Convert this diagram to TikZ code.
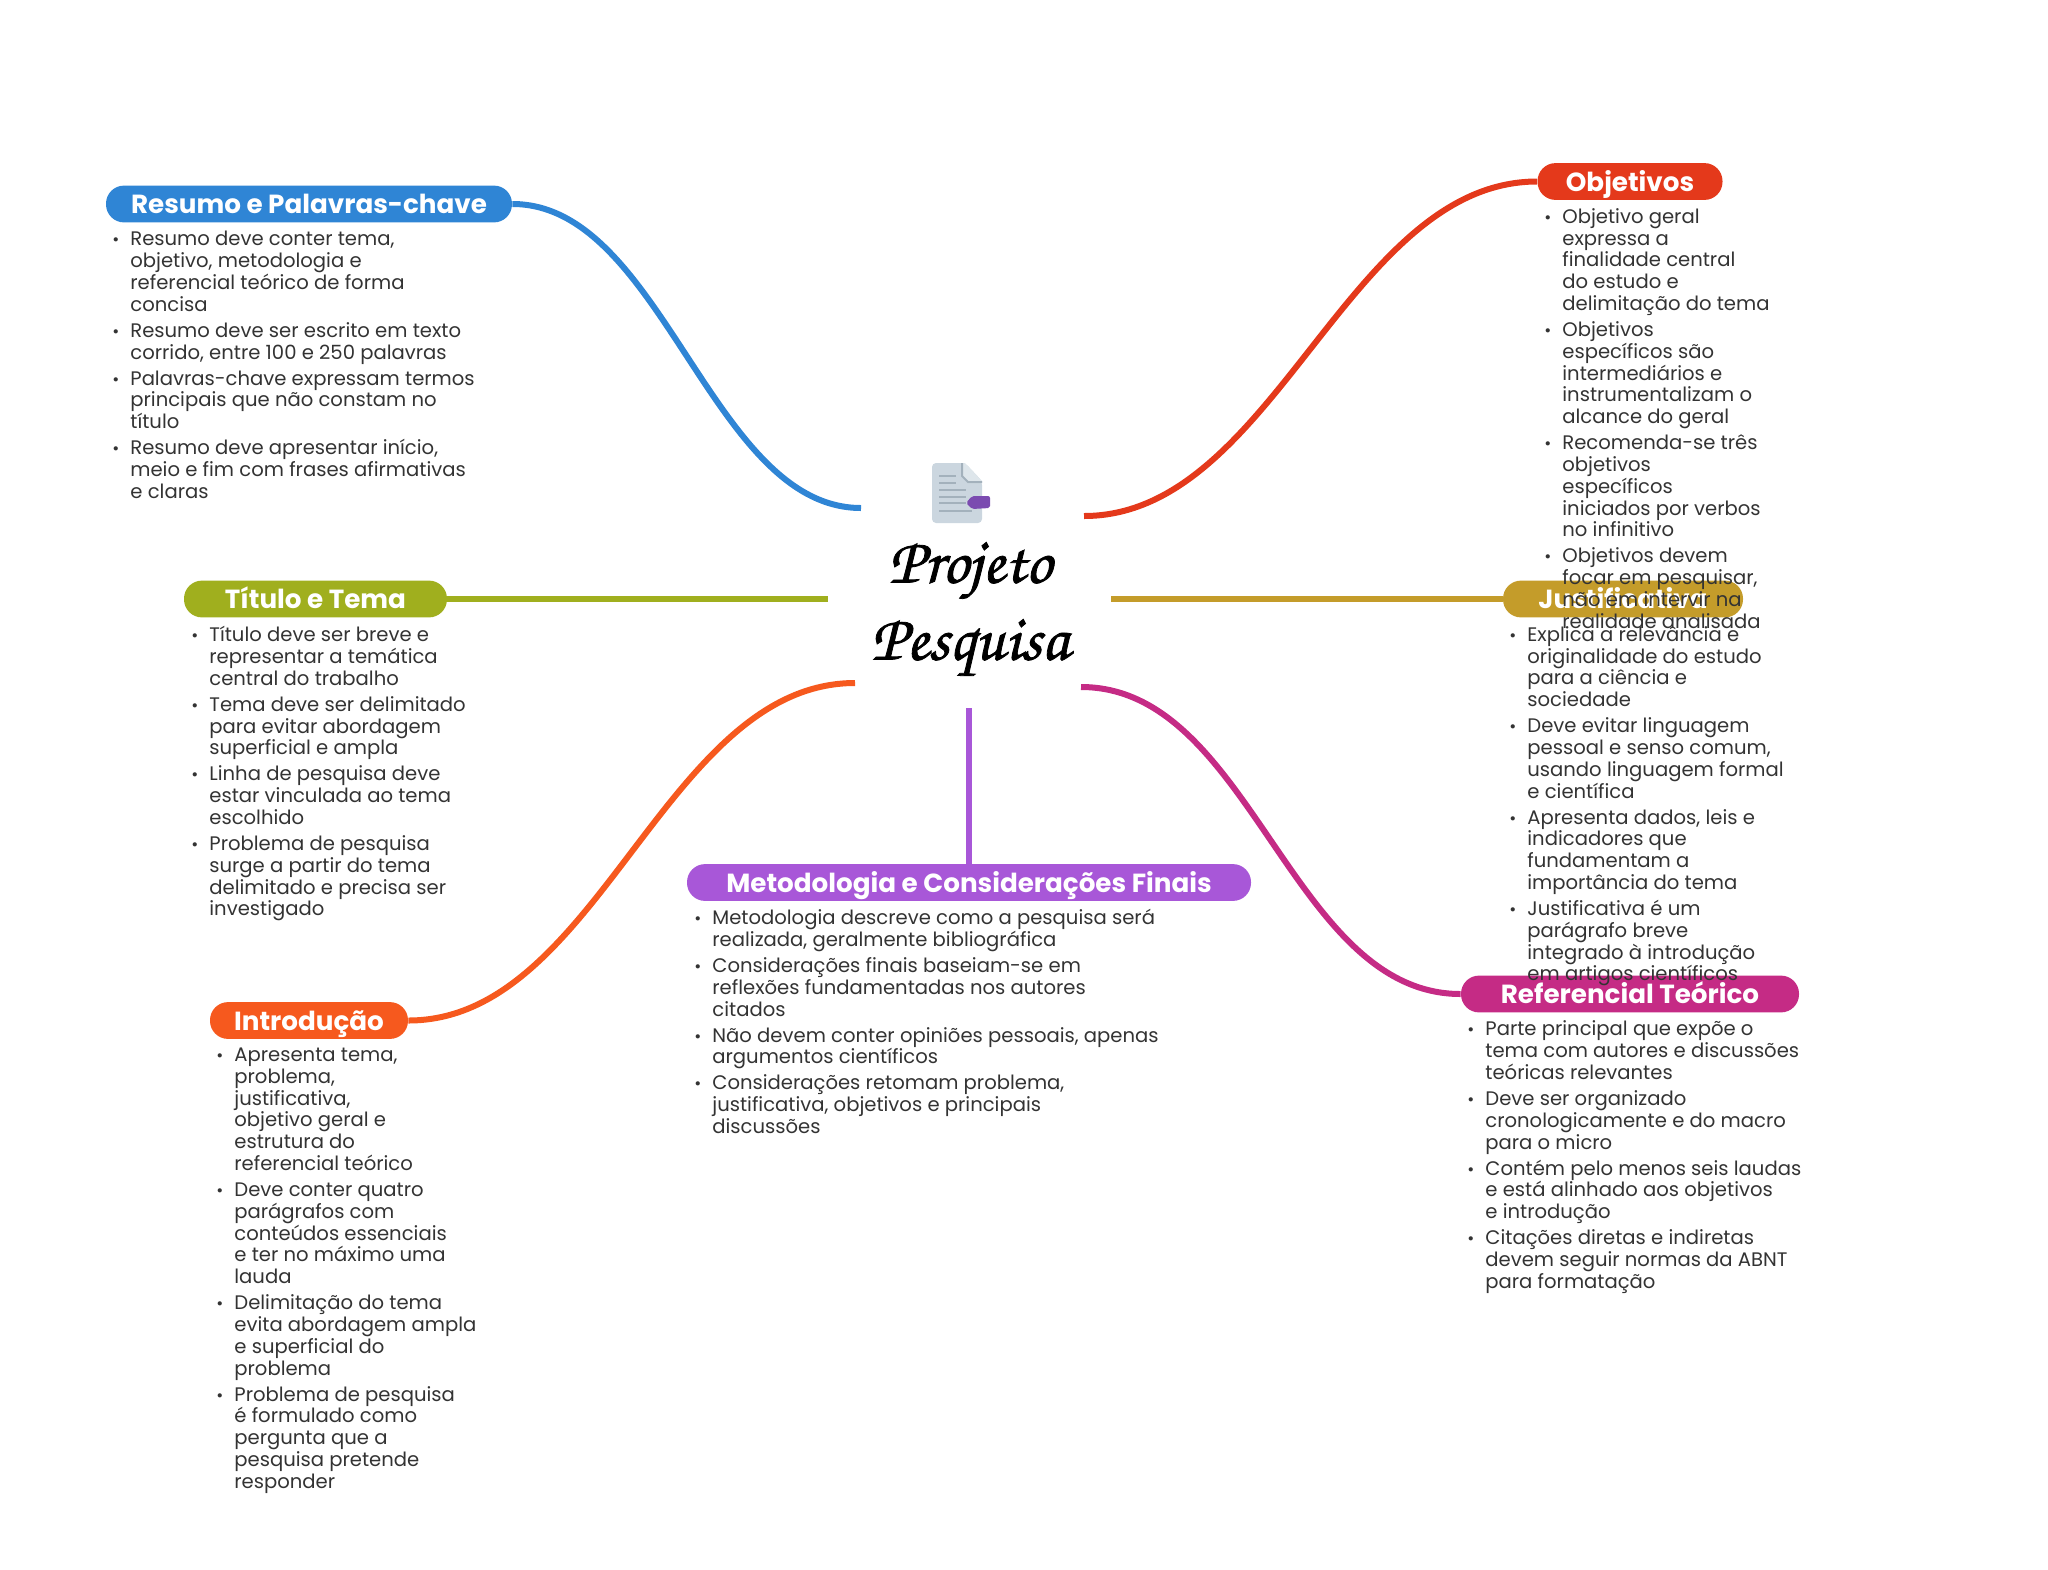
\documentclass[tikz,border=0pt]{standalone}
\usepackage{fontspec}
\setmainfont{Poppins}
\newfontfamily\hubfont[FakeBold=1.2]{TeX Gyre Chorus}
\usepackage{xcolor}
\usetikzlibrary{positioning}
\definecolor{cResumo}{HTML}{2F85D5}
\definecolor{cObjetivos}{HTML}{E4391B}
\definecolor{cTitulo}{HTML}{A0AF1E}
\definecolor{cJustif}{HTML}{C49C2A}
\definecolor{cIntro}{HTML}{F6591E}
\definecolor{cMetodo}{HTML}{A857D8}
\definecolor{cRefer}{HTML}{C52B85}
\definecolor{cBody}{HTML}{333333}
\definecolor{cPage}{HTML}{CBD6DF}
\definecolor{cFold}{HTML}{DEE6EB}
\definecolor{cRow}{HTML}{A3B1BC}
\definecolor{cTag}{HTML}{7B4BB0}
\newcommand{\itm}{\llap{{\fontsize{8.5}{8.5}\selectfont\textbullet}\hspace{5.5pt}}}
\tikzset{
  pill/.style={fill=#1,text=white,rounded corners=9pt,inner sep=0pt,minimum height=18.4pt,
    text height=9.5pt,text depth=0pt,font=\fontsize{13.1}{16}\selectfont\bfseries},
  bodytext/.style={anchor=north west,inner sep=0pt,align=left,text=cBody,
    font=\fontsize{9.8}{10.9}\selectfont},
  linkline/.style={line width=3pt,#1}
}
\begin{document}
\begin{tikzpicture}[x=0.5pt,y=-0.5pt]
  \path[use as bounding box] (0,0) rectangle (2048,1569);
  % icon
  \fill[rounded corners=2pt,cPage] (932,463) -- (965,463) -- (982,481) -- (982,523) -- (932,523) -- cycle;
  \fill[cFold] (961,463) -- (965,463) -- (982,481) -- (982,483) -- (968,483) -- (961,476) -- cycle;
  \draw[line width=1pt,cRow] (962,463) -- (962,476) -- (968,482) -- (982,482);
  \foreach \y/\w in {476/956,483/956,490/966,497/966,503/966,511/972}
    \draw[line width=1.2pt,cRow] (939,\y) -- (\w,\y);
  \fill[rounded corners=1pt,cTag] (966,503) -- (972,496) -- (990,496) -- (990,508) -- (972,509) -- cycle;
  % centre
  \node (hub) at (970,609) [align=center,font=\hubfont\fontsize{32.5}{38.5}\selectfont] {Projeto\\Pesquisa};
  \coordinate (endResumo) at (861,508);
  \coordinate (endObjetivos) at (1084,516);
  \coordinate (endTitulo) at (828,599);
  \coordinate (endJustif) at (1111,599);
  \coordinate (endIntro) at (855,683);
  \coordinate (endMetodo) at (969,708);
  \coordinate (endRefer) at (1081,687);
  % branches
  \node[pill=cResumo,minimum width=203pt] (resumo) at (309,204) {Resumo e Palavras-chave};
  \node[pill=cObjetivos,minimum width=92.5pt] (objetivos) at (1630,181.5) {Objetivos};
  \node[pill=cTitulo,minimum width=131.5pt] (titulo) at (315.5,599) {Título e Tema};
  \node[pill=cJustif,minimum width=120pt] (justif) at (1623,599) {Justificativa};
  \node[pill=cIntro,minimum width=99pt] (intro) at (309,1020.5) {Introdução};
  \node[pill=cMetodo,minimum width=282pt] (metodo) at (969,882.5) {Metodologia e Considerações Finais};
  \node[pill=cRefer,minimum width=169pt] (refer) at (1630,994) {Referencial Teórico};
  % connectors
  \draw[linkline=cResumo] (resumo.east) .. controls +(150,0) and +(-150,0) .. (endResumo);
  \draw[linkline=cObjetivos] (objetivos.west) .. controls +(-190,0) and +(190,0) .. (endObjetivos);
  \draw[linkline=cTitulo] (titulo.east) -- (endTitulo);
  \draw[linkline=cJustif] (justif.west) -- (endJustif);
  \draw[linkline=cIntro] (intro.east) .. controls +(190,0) and +(-190,0) .. (endIntro);
  \draw[linkline=cMetodo] (metodo.north) -- (endMetodo);
  \draw[linkline=cRefer] (refer.west) .. controls +(-170,0) and +(170,0) .. (endRefer);
  % lists
  \node[bodytext] (resumoList) at (130,231) {\itm Resumo deve conter tema,\\ objetivo, metodologia e\\ referencial teórico de forma\\ concisa\\[2.1pt]
    \itm Resumo deve ser escrito em texto\\ corrido, entre 100 e 250 palavras\\[2.1pt]
    \itm Palavras-chave expressam termos\\ principais que não constam no\\ título\\[2.1pt]
    \itm Resumo deve apresentar início,\\ meio e fim com frases afirmativas\\ e claras};
  \node[bodytext] (objetivosList) at (1562,208) {\itm Objetivo geral\\ expressa a\\ finalidade central\\ do estudo e\\ delimitação do tema\\[2.1pt]
    \itm Objetivos\\ específicos são\\ intermediários e\\ instrumentalizam o\\ alcance do geral\\[2.1pt]
    \itm Recomenda-se três\\ objetivos\\ específicos\\ iniciados por verbos\\ no infinitivo\\[2.1pt]
    \itm Objetivos devem\\ focar em pesquisar,\\ não em intervir na\\ realidade analisada};
  \node[bodytext] (tituloList) at (209,626) {\itm Título deve ser breve e\\ representar a temática\\ central do trabalho\\[2.1pt]
    \itm Tema deve ser delimitado\\ para evitar abordagem\\ superficial e ampla\\[2.1pt]
    \itm Linha de pesquisa deve\\ estar vinculada ao tema\\ escolhido\\[2.1pt]
    \itm Problema de pesquisa\\ surge a partir do tema\\ delimitado e precisa ser\\ investigado};
  \node[bodytext] (justifList) at (1527,626) {\itm Explica a relevância e\\ originalidade do estudo\\ para a ciência e\\ sociedade\\[2.1pt]
    \itm Deve evitar linguagem\\ pessoal e senso comum,\\ usando linguagem formal\\ e científica\\[2.1pt]
    \itm Apresenta dados, leis e\\ indicadores que\\ fundamentam a\\ importância do tema\\[2.1pt]
    \itm Justificativa é um\\ parágrafo breve\\ integrado à introdução\\ em artigos científicos};
  \node[bodytext] (introList) at (234,1047.5) {\itm Apresenta tema,\\ problema,\\ justificativa,\\ objetivo geral e\\ estrutura do\\ referencial teórico\\[2.1pt]
    \itm Deve conter quatro\\ parágrafos com\\ conteúdos essenciais\\ e ter no máximo uma\\ lauda\\[2.1pt]
    \itm Delimitação do tema\\ evita abordagem ampla\\ e superficial do\\ problema\\[2.1pt]
    \itm Problema de pesquisa\\ é formulado como\\ pergunta que a\\ pesquisa pretende\\ responder};
  \node[bodytext] (metodoList) at (712,909) {\itm Metodologia descreve como a pesquisa será\\ realizada, geralmente bibliográfica\\[2.1pt]
    \itm Considerações finais baseiam-se em\\ reflexões fundamentadas nos autores\\ citados\\[2.1pt]
    \itm Não devem conter opiniões pessoais, apenas\\ argumentos científicos\\[2.1pt]
    \itm Considerações retomam problema,\\ justificativa, objetivos e principais\\ discussões};
  \node[bodytext] (referList) at (1485,1020.5) {\itm Parte principal que expõe o\\ tema com autores e discussões\\ teóricas relevantes\\[2.1pt]
    \itm Deve ser organizado\\ cronologicamente e do macro\\ para o micro\\[2.1pt]
    \itm Contém pelo menos seis laudas\\ e está alinhado aos objetivos\\ e introdução\\[2.1pt]
    \itm Citações diretas e indiretas\\ devem seguir normas da ABNT\\ para formatação};
\end{tikzpicture}
\end{document}
